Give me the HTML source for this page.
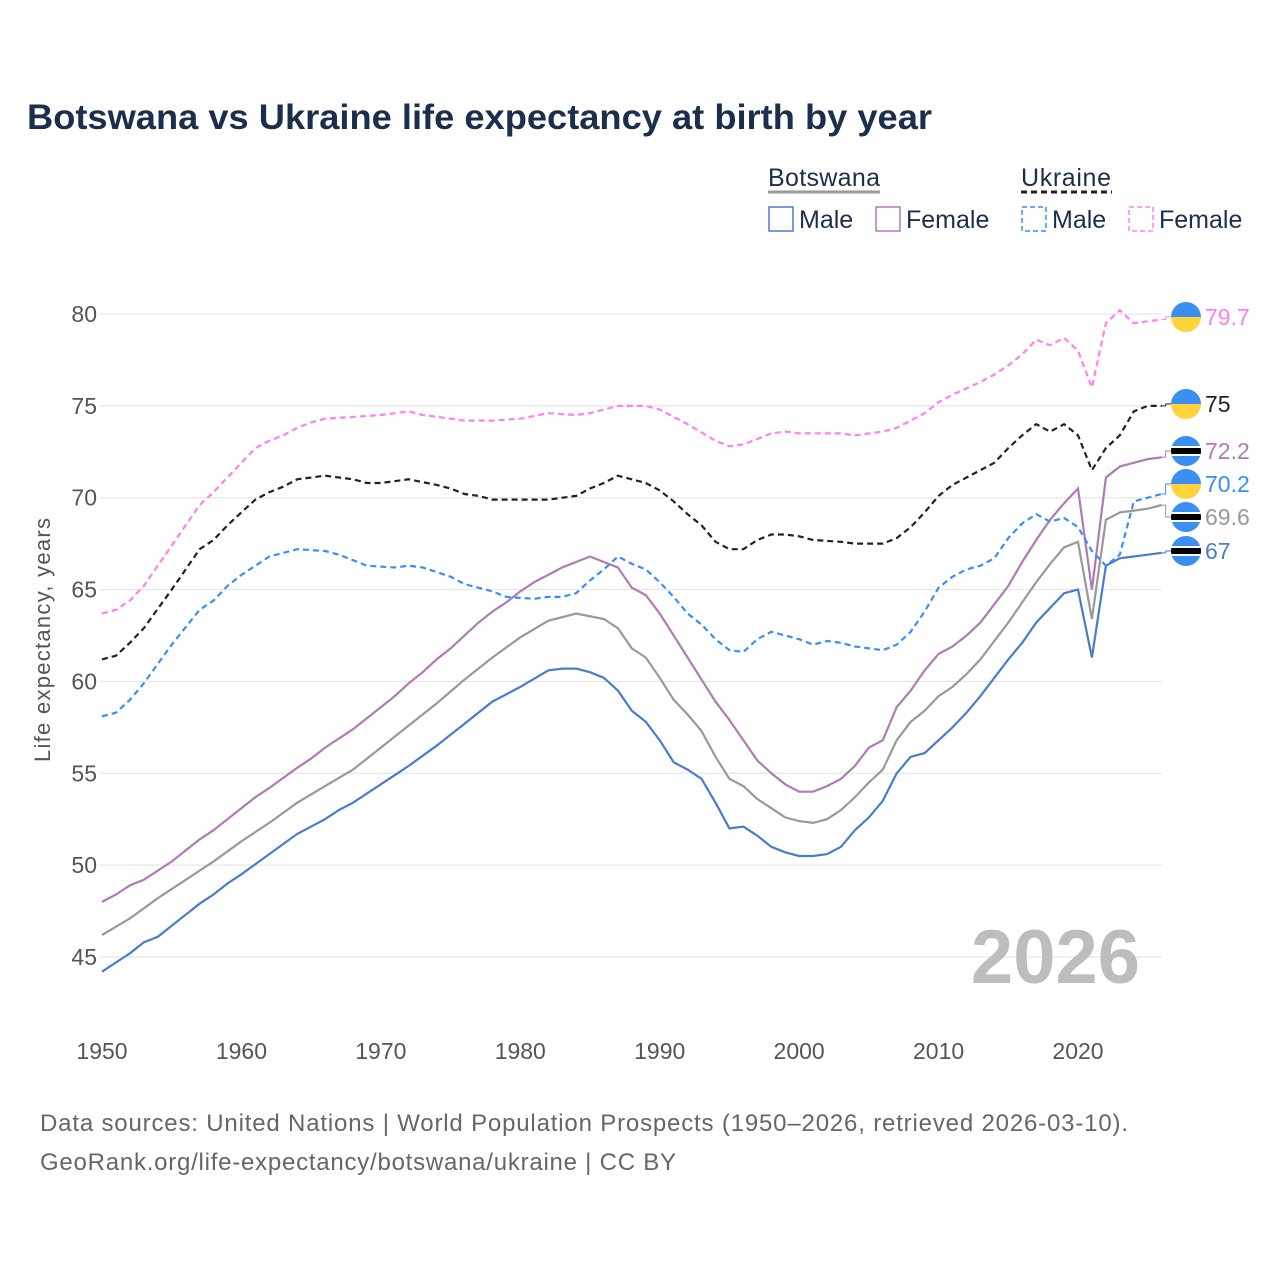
<!DOCTYPE html>
<html><head><meta charset="utf-8"><style>
body{margin:0;background:#fff;}
svg text{font-family:"Liberation Sans",sans-serif;}
</style></head><body>
<svg id="chart" width="1280" height="1280" viewBox="0 0 1280 1280" xmlns="http://www.w3.org/2000/svg">
<rect width="1280" height="1280" fill="#fff"/>
<text x="27" y="129" font-size="35" font-weight="bold" fill="#1b2e4b" textLength="905" lengthAdjust="spacingAndGlyphs">Botswana vs Ukraine life expectancy at birth by year</text>
<g font-size="25" fill="#1b2e4b">
<text x="768" y="186" textLength="112">Botswana</text>
<line x1="768" y1="192" x2="880" y2="192" stroke="#999" stroke-width="3"/>
<text x="1021" y="186" textLength="90">Ukraine</text>
<line x1="1021" y1="192" x2="1112" y2="192" stroke="#222" stroke-width="3" stroke-dasharray="6,4"/>
<g><rect x="769" y="207" width="24" height="24" fill="none" stroke="#4a7bcc" stroke-width="1.5"/><text x="799" y="228">Male</text></g>
<g><rect x="876" y="207" width="24" height="24" fill="none" stroke="#b07ab6" stroke-width="1.5"/><text x="906" y="228">Female</text></g>
<g><rect x="1022" y="207" width="24" height="24" fill="none" stroke="#3a8ef5" stroke-width="1.5" stroke-dasharray="5,3"/><text x="1052" y="228">Male</text></g>
<g><rect x="1129" y="207" width="24" height="24" fill="none" stroke="#ff80f0" stroke-width="1.5" stroke-dasharray="5,3"/><text x="1159" y="228">Female</text></g>
</g>
<g id="grid"></g>
<text x="1140" y="983" font-size="76" font-weight="bold" fill="#bdbdbd" text-anchor="end">2026</text>
<text transform="translate(50,640) rotate(-90)" font-size="22" fill="#555" text-anchor="middle" textLength="244">Life expectancy, years</text>
<g id="series"></g>
<g id="labels"></g>
<text x="40" y="1131" font-size="24" fill="#666" textLength="1088">Data sources: United Nations | World Population Prospects (1950–2026, retrieved 2026-03-10).</text>
<text x="40" y="1170" font-size="24" fill="#666" textLength="636">GeoRank.org/life-expectancy/botswana/ukraine | CC BY</text>
</svg>
<script>
const yTicks=[45,50,55,60,65,70,75,80];
const xTicks=[1950,1960,1970,1980,1990,2000,2010,2020];
const ukfYears=[1950,1951,1952,1953,1955,1957,1958,1960,1961,1962,1963,1964,1965,1966,1968,1970,1972,1973,1975,1976,1978,1980,1982,1984,1985,1987,1989,1990,1992,1994,1995,1996,1998,1999,2000,2003,2004,2006,2007,2009,2010,2011,2013,2014,2015,2016,2017,2018,2019,2020,2021,2022,2023,2024,2025,2026];
const ukfVals=[63.7,63.9,64.4,65.2,67.4,69.6,70.3,71.9,72.7,73.1,73.4,73.8,74.1,74.3,74.4,74.5,74.7,74.5,74.3,74.2,74.2,74.3,74.6,74.5,74.6,75.0,75.0,74.8,74.0,73.1,72.8,72.9,73.5,73.6,73.5,73.5,73.4,73.6,73.8,74.6,75.2,75.6,76.3,76.7,77.2,77.8,78.6,78.3,78.7,78.0,76.0,79.5,80.2,79.5,79.6,79.7];
const uktYears=[1950,1951,1952,1953,1955,1956,1957,1958,1959,1960,1961,1962,1963,1964,1966,1968,1969,1970,1972,1974,1975,1976,1977,1978,1982,1984,1985,1986,1987,1988,1989,1990,1991,1992,1993,1994,1995,1996,1997,1998,1999,2000,2001,2003,2004,2006,2007,2008,2009,2010,2011,2012,2013,2014,2015,2016,2017,2018,2019,2020,2021,2022,2023,2024,2025,2026];
const uktVals=[61.2,61.4,62.1,62.9,65.0,66.1,67.2,67.7,68.5,69.2,69.9,70.3,70.6,71.0,71.2,71.0,70.8,70.8,71.0,70.7,70.5,70.2,70.1,69.9,69.9,70.1,70.5,70.8,71.2,71.0,70.8,70.4,69.8,69.1,68.5,67.6,67.2,67.2,67.7,68.0,68.0,67.9,67.7,67.6,67.5,67.5,67.8,68.4,69.2,70.1,70.7,71.1,71.5,71.9,72.7,73.4,74.0,73.6,74.0,73.4,71.5,72.7,73.4,74.7,75.0,75.0];
const ukmYears=[1950,1951,1952,1953,1955,1957,1958,1959,1960,1961,1962,1964,1966,1967,1968,1969,1971,1972,1973,1975,1976,1978,1979,1981,1982,1983,1984,1985,1986,1987,1988,1989,1990,1991,1992,1993,1994,1995,1996,1997,1998,1999,2000,2001,2002,2003,2004,2006,2007,2008,2009,2010,2011,2012,2013,2014,2015,2016,2017,2018,2019,2020,2021,2022,2023,2024,2025,2026];
const ukmVals=[58.1,58.3,59.0,59.9,62.0,63.9,64.4,65.2,65.8,66.3,66.8,67.2,67.1,66.9,66.6,66.3,66.2,66.3,66.2,65.7,65.3,64.9,64.6,64.5,64.6,64.6,64.8,65.5,66.1,66.8,66.4,66.1,65.4,64.6,63.7,63.1,62.3,61.7,61.6,62.3,62.7,62.5,62.3,62.0,62.2,62.1,61.9,61.7,62.0,62.7,63.8,65.1,65.7,66.1,66.3,66.7,67.8,68.6,69.1,68.7,68.9,68.4,67.1,66.3,66.9,69.8,70.0,70.2];
const bwfYears=[1950,1951,1952,1953,1955,1956,1957,1958,1960,1961,1962,1964,1965,1966,1968,1969,1970,1971,1972,1973,1974,1975,1976,1977,1978,1979,1980,1981,1982,1983,1984,1985,1986,1987,1988,1989,1990,1991,1992,1993,1994,1995,1996,1997,1998,1999,2000,2001,2002,2003,2004,2005,2006,2007,2008,2009,2010,2011,2012,2013,2014,2015,2016,2017,2018,2019,2020,2021,2022,2023,2024,2025,2026];
const bwfVals=[48.0,48.4,48.9,49.2,50.2,50.8,51.4,51.9,53.1,53.7,54.2,55.3,55.8,56.4,57.4,58.0,58.6,59.2,59.9,60.5,61.2,61.8,62.5,63.2,63.8,64.3,64.9,65.4,65.8,66.2,66.5,66.8,66.5,66.2,65.1,64.7,63.7,62.5,61.3,60.1,58.9,57.9,56.8,55.7,55.0,54.4,54.0,54.0,54.3,54.7,55.4,56.4,56.8,58.6,59.5,60.6,61.5,61.9,62.5,63.2,64.2,65.2,66.5,67.7,68.8,69.7,70.5,65.0,71.1,71.7,71.9,72.1,72.2];
const bwmYears=[1950,1951,1952,1953,1954,1955,1956,1957,1958,1959,1960,1962,1964,1966,1967,1968,1970,1972,1974,1976,1978,1980,1982,1983,1984,1985,1986,1987,1988,1989,1990,1991,1992,1993,1994,1995,1996,1997,1998,1999,2000,2001,2002,2003,2004,2005,2006,2007,2008,2009,2010,2011,2012,2013,2014,2015,2016,2017,2018,2019,2020,2021,2022,2023,2024,2025,2026];
const bwmVals=[44.2,44.7,45.2,45.8,46.1,46.7,47.3,47.9,48.4,49.0,49.5,50.6,51.7,52.5,53.0,53.4,54.4,55.4,56.5,57.7,58.9,59.7,60.6,60.7,60.7,60.5,60.2,59.5,58.4,57.8,56.8,55.6,55.2,54.7,53.4,52.0,52.1,51.6,51.0,50.7,50.5,50.5,50.6,51.0,51.9,52.6,53.5,55.0,55.9,56.1,56.8,57.5,58.3,59.2,60.2,61.2,62.1,63.2,64.0,64.8,65.0,61.3,66.3,66.7,66.8,66.9,67.0];
const bwtYears=[1950,1952,1954,1956,1958,1960,1962,1964,1966,1968,1970,1972,1974,1976,1978,1980,1982,1984,1986,1987,1988,1989,1990,1991,1992,1993,1994,1995,1996,1997,1998,1999,2000,2001,2002,2003,2004,2005,2006,2007,2008,2009,2010,2011,2012,2013,2014,2015,2016,2017,2018,2019,2020,2021,2022,2023,2024,2025,2026];
const bwtVals=[46.2,47.1,48.2,49.2,50.2,51.3,52.3,53.4,54.3,55.2,56.4,57.6,58.8,60.1,61.3,62.4,63.3,63.7,63.4,62.9,61.8,61.3,60.2,59.0,58.2,57.3,55.9,54.7,54.3,53.6,53.1,52.6,52.4,52.3,52.5,53.0,53.7,54.5,55.2,56.8,57.8,58.4,59.2,59.7,60.4,61.2,62.2,63.2,64.3,65.4,66.4,67.3,67.6,63.4,68.8,69.2,69.3,69.4,69.6];

const NS="http://www.w3.org/2000/svg";
const x=yr=>102+(yr-1950)*(976/70);
const y=v=>314+(80-v)*(643/35);
const grid=document.getElementById('grid');
yTicks.forEach(t=>{
 const l=document.createElementNS(NS,'line');
 
 
 l.setAttribute('x1',100);l.setAttribute('x2',1162);l.setAttribute('y1',y(t));l.setAttribute('y2',y(t));
 l.setAttribute('stroke','#e6e6e6');l.setAttribute('stroke-width','1.2');grid.appendChild(l);
 const tx=document.createElementNS(NS,'text');
 
 
 tx.setAttribute('x',97);tx.setAttribute('y',y(t)+8);tx.setAttribute('text-anchor','end');
 tx.setAttribute('font-size','23');tx.setAttribute('fill','#555');tx.textContent=t;grid.appendChild(tx);
});
xTicks.forEach(t=>{
 const tx=document.createElementNS(NS,'text');
 
 
 tx.setAttribute('x',x(t));tx.setAttribute('y',1059);tx.setAttribute('text-anchor','middle');
 tx.setAttribute('font-size','23');tx.setAttribute('fill','#555');tx.textContent=t;grid.appendChild(tx);
});
const series=[
 ['botswana-total',bwtYears,bwtVals,'#999','',517,'bw'],
 ['botswana-male',bwmYears,bwmVals,'#4a7bcc','',551,'bw'],
 ['botswana-female',bwfYears,bwfVals,'#b07ab6','',451,'bw'],
 ['ukraine-male',ukmYears,ukmVals,'#3a8ef5','6,4',484,'ua'],
 ['ukraine-total',uktYears,uktVals,'#222','6,4',404,'ua'],
 ['ukraine-female',ukfYears,ukfVals,'#ff80f0','6,4',317,'ua']
];
const sg=document.getElementById('series'),lg=document.getElementById('labels');
series.forEach(([name,ys,vs,col,dash,ly,flag])=>{
 const p=document.createElementNS(NS,'path');
 
 
 p.setAttribute('d',ys.map((yr,i)=>(i?'L':'M')+x(yr).toFixed(1)+','+y(vs[i]).toFixed(1)).join(''));
 p.setAttribute('fill','none');p.setAttribute('stroke',col);p.setAttribute('stroke-width','2.2');
 if(dash)p.setAttribute('stroke-dasharray',dash);
 sg.appendChild(p);
 const last=vs[vs.length-1],ex=x(ys[ys.length-1]),ey=y(last);
 const c=document.createElementNS(NS,'path');
 
 
 c.setAttribute('d',`M${ex},${ey}H${ex+4}V${ly}H1172`);
 c.setAttribute('fill','none');c.setAttribute('stroke',col);c.setAttribute('stroke-width','1');
 lg.appendChild(c);
 const g=document.createElementNS(NS,'g');
 
 
 const cx=1186;
 if(flag==='ua'){
  g.innerHTML=`<clipPath id="c${name}"><circle cx="${cx}" cy="${ly}" r="15"/></clipPath><g clip-path="url(#c${name})"><rect x="${cx-15}" y="${ly-15}" width="30" height="15" fill="#3b8ff0"/><rect x="${cx-15}" y="${ly}" width="30" height="15" fill="#ffd43b"/></g>`;
 }else{
  g.innerHTML=`<clipPath id="c${name}"><circle cx="${cx}" cy="${ly}" r="15"/></clipPath><g clip-path="url(#c${name})"><rect x="${cx-15}" y="${ly-15}" width="30" height="30" fill="#3b8ff0"/><rect x="${cx-15}" y="${ly-5}" width="30" height="10" fill="#fff"/><rect x="${cx-15}" y="${ly-3}" width="30" height="6" fill="#000"/></g>`;
 }
 lg.appendChild(g);
 const t=document.createElementNS(NS,'text');
 
 
 t.setAttribute('x',1205);t.setAttribute('y',ly+8);t.setAttribute('font-size','23');t.setAttribute('fill',col);
 t.textContent=String(last);lg.appendChild(t);
});
</script>
</body></html>
